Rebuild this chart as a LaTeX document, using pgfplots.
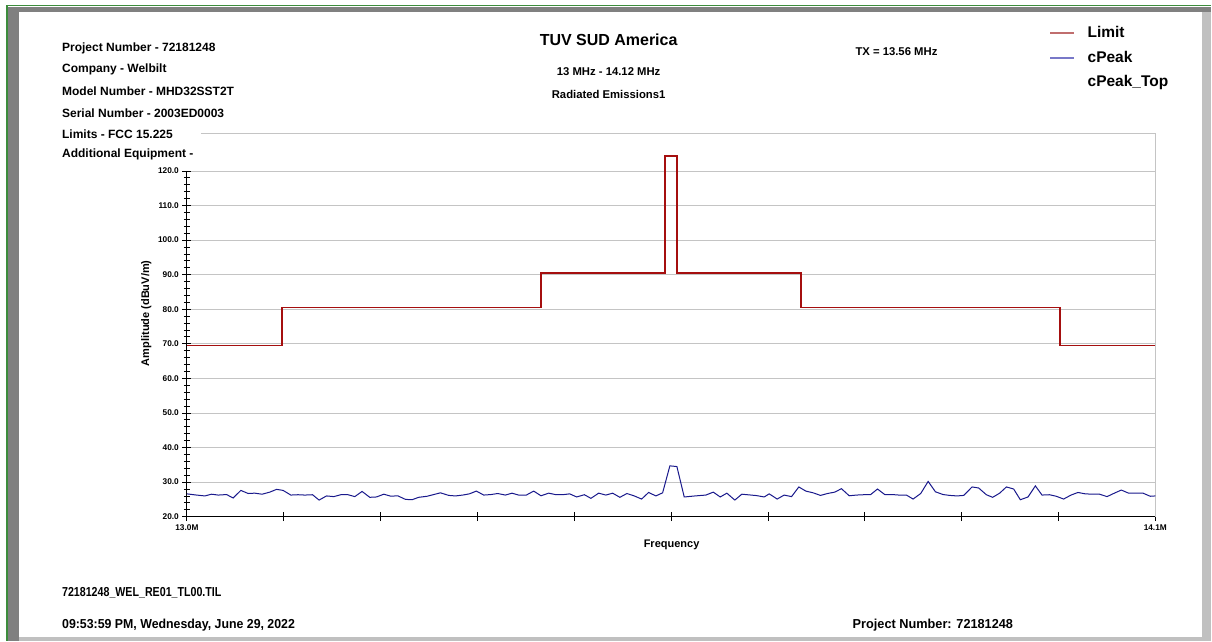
\documentclass[border=0pt]{standalone}
\usepackage{pgfplots}
\pgfplotsset{compat=1.18}
\usepackage{fontspec}
\setmainfont{Liberation Sans}
\definecolor{limitred}{RGB}{165,15,15}
\definecolor{peakblue}{RGB}{25,25,140}
\definecolor{leglimit}{RGB}{192,110,110}
\definecolor{legpeak}{RGB}{120,120,200}
\definecolor{framegray}{RGB}{128,128,128}
\definecolor{framelight}{RGB}{192,192,192}
\definecolor{framegreen}{RGB}{60,140,60}
\definecolor{gridgray}{RGB}{196,196,196}
\begin{document}
\begin{tikzpicture}
\fill[white] (0pt,0pt) rectangle (1212pt,641pt);
% window frame
\fill[framegray] (8pt,0pt) rectangle (19pt,634pt);
\fill[framegray] (8pt,629pt) rectangle (1212pt,634pt);
\fill[framelight] (1203pt,0pt) rectangle (1212pt,629pt);
\fill[framelight] (19pt,0pt) rectangle (1212pt,4pt);
\draw[framegreen, line width=1.5pt] (7pt,0pt) -- (7pt,635.5pt) -- (1212pt,635.5pt);
\begin{axis}[
  at={(187pt,124pt)}, anchor=south west,
  scale only axis, width=969pt, height=384pt,
  xmin=13, xmax=14.12, ymin=20, ymax=131,
  clip=false,
  axis x line*=bottom, axis y line*=left,
  axis line style={black, line width=0.9pt},
  y axis line style={draw=none},
  xtick={13,13.112,13.224,13.336,13.448,13.56,13.672,13.784,13.896,14.008,14.12},
  xticklabels={13.0M,,,,,,,,,,14.1M},
  ytick={20,30,...,120},
  minor y tick num=4,
  tick align=center,
  major tick length=9pt, minor tick length=6pt,
  every tick/.style={black, line width=0.8pt},
  ymajorgrids, major grid style={gridgray, line width=0.8pt},
  ticklabel style={font=\fontsize{8.3}{9}\selectfont\bfseries},
  yticklabel style={/pgf/number format/.cd, fixed, fixed zerofill, precision=1, assume math mode=true},
  xlabel={Frequency}, ylabel={Amplitude (dBuV/m)},
  label style={font=\fontsize{11}{13}\selectfont\bfseries},
  x label style={at={(axis description cs:0.5005,-0.073)}, anchor=center},
  y label style={at={(axis description cs:-0.042,0.53)}, anchor=center},
  legend style={at={(axis description cs:0.8905,1.279)}, anchor=north west, draw=none, fill=none,
    font=\fontsize{15.5}{17}\selectfont\bfseries, inner sep=0pt, row sep=11pt, column sep=11pt,
    nodes={text height=11pt, text depth=3pt, inner ysep=0pt, inner xsep=2pt}},
  legend cell align=left,
  legend image code/.code={\draw[#1, line width=1.2pt] (0pt,0pt) -- (24pt,0pt);},
]
\addlegendimage{leglimit}
\addlegendentry{Limit}
\addlegendimage{legpeak}
\addlegendentry{cPeak}
\addlegendimage{empty legend}
\addlegendentry{cPeak\_Top}
\draw[gridgray, line width=0.8pt] (rel axis cs:0.0145,1) -- (rel axis cs:1,1) -- (rel axis cs:1,0);
\draw[black, line width=0.9pt] (axis cs:13,20) -- (axis cs:13,120);
\addplot[forget plot, limitred, line width=1.8pt] coordinates {
(13.0,69.5)(13.11,69.5)(13.11,80.5)(13.41,80.5)(13.41,90.5)(13.553,90.5)(13.553,124.3)(13.567,124.3)(13.567,90.5)(13.71,90.5)(13.71,80.5)(14.01,80.5)(14.01,69.5)(14.12,69.5)};
\addplot[forget plot, peakblue, line width=1pt] table {
x y
13.0000 26.6
13.0112 26.25
13.0208 26.0
13.0285 26.5
13.0362 26.25
13.0459 26.4
13.0535 25.4
13.0624 27.6
13.0709 26.7
13.0786 26.8
13.0870 26.5
13.0959 27.1
13.1037 27.9
13.1113 27.6
13.1202 26.25
13.1286 26.35
13.1364 26.25
13.1453 26.35
13.1529 24.8
13.1615 26.0
13.1699 25.8
13.1788 26.4
13.1864 26.35
13.1942 25.8
13.2026 27.3
13.2115 25.6
13.2193 25.7
13.2277 26.5
13.2354 25.96
13.2442 26.0
13.2528 25.0
13.2604 24.9
13.2681 25.6
13.2777 25.9
13.2855 26.4
13.2932 26.9
13.3028 26.15
13.3106 26.0
13.3190 26.25
13.3267 26.6
13.3348 27.4
13.3433 26.25
13.3517 26.4
13.3595 26.7
13.3683 26.25
13.3760 26.8
13.3837 26.25
13.3926 26.25
13.4011 27.4
13.4095 26.05
13.4184 26.8
13.4262 26.4
13.4346 26.35
13.4427 26.6
13.4508 25.7
13.4597 26.35
13.4673 25.3
13.4762 26.8
13.4846 26.25
13.4924 26.8
13.5008 25.6
13.5089 26.7
13.5174 26.0
13.5259 25.1
13.5340 27.0
13.5424 26.0
13.5502 26.9
13.5586 34.7
13.5667 34.5
13.5752 25.7
13.5877 26.0
13.6002 26.25
13.6088 27.1
13.6168 25.7
13.6245 26.8
13.6337 24.8
13.6418 26.5
13.6503 26.3
13.6588 26.1
13.6677 25.7
13.6735 26.6
13.6827 25.1
13.6908 26.25
13.6993 25.8
13.7077 28.6
13.7158 27.4
13.7243 26.9
13.7328 26.15
13.7409 26.7
13.7493 27.1
13.7570 28.1
13.7660 26.05
13.7744 26.25
13.7828 26.35
13.7906 26.35
13.7987 28.0
13.8071 26.4
13.8156 26.4
13.8237 26.25
13.8322 26.25
13.8399 25.1
13.8487 26.7
13.8573 30.2
13.8657 27.2
13.8746 26.4
13.8822 26.15
13.8908 26.0
13.8984 26.15
13.9081 28.6
13.9157 28.3
13.9246 26.35
13.9319 25.6
13.9400 26.8
13.9478 28.6
13.9562 28.0
13.9639 24.9
13.9728 25.7
13.9813 28.9
13.9890 26.25
13.9975 26.35
14.0055 25.9
14.0140 25.1
14.0225 26.25
14.0306 27.0
14.0391 26.6
14.0475 26.5
14.0556 26.5
14.0642 25.8
14.0726 26.8
14.0807 27.7
14.0891 26.8
14.0977 26.8
14.1058 26.8
14.1142 25.9
14.1200 26.0
};
\end{axis}
\begin{scope}[every node/.style={font=\fontsize{12}{14}\selectfont\bfseries, inner sep=0pt}]
\node[anchor=west] at (62pt,593pt) {Project Number - 72181248};
\node[anchor=west] at (62pt,572pt) {Company - Welbilt};
\node[anchor=west] at (62pt,550pt) {Model Number - MHD32SST2T};
\node[anchor=west] at (62pt,528pt) {Serial Number - 2003ED0003};
\node[anchor=west] at (62pt,507pt) {Limits - FCC 15.225};
\node[anchor=west] at (62pt,486pt) {Additional Equipment -};
\node[font=\fontsize{16}{18}\selectfont\bfseries] at (609pt,601pt) {TUV SUD America};
\node[font=\fontsize{11.3}{13}\selectfont\bfseries] at (609pt,569pt) {13 MHz - 14.12 MHz};
\node[font=\fontsize{11.3}{13}\selectfont\bfseries] at (609pt,546pt) {Radiated Emissions1};
\node[font=\fontsize{11.3}{13}\selectfont\bfseries] at (897pt,589pt) {TX = 13.56 MHz};
\node[anchor=west, font=\fontsize{13}{15}\selectfont\bfseries, xscale=0.82] at (62pt,48pt) {72181248\_WEL\_RE01\_TL00.TIL};
\node[anchor=west, font=\fontsize{13}{15}\selectfont\bfseries, xscale=0.95] at (62pt,15pt) {09:53:59 PM, Wednesday, June 29, 2022};
\node[anchor=west, font=\fontsize{13}{15}\selectfont\bfseries, xscale=0.98] at (853pt,15pt) {Project Number: 72181248};
\end{scope}
\end{tikzpicture}
\end{document}
